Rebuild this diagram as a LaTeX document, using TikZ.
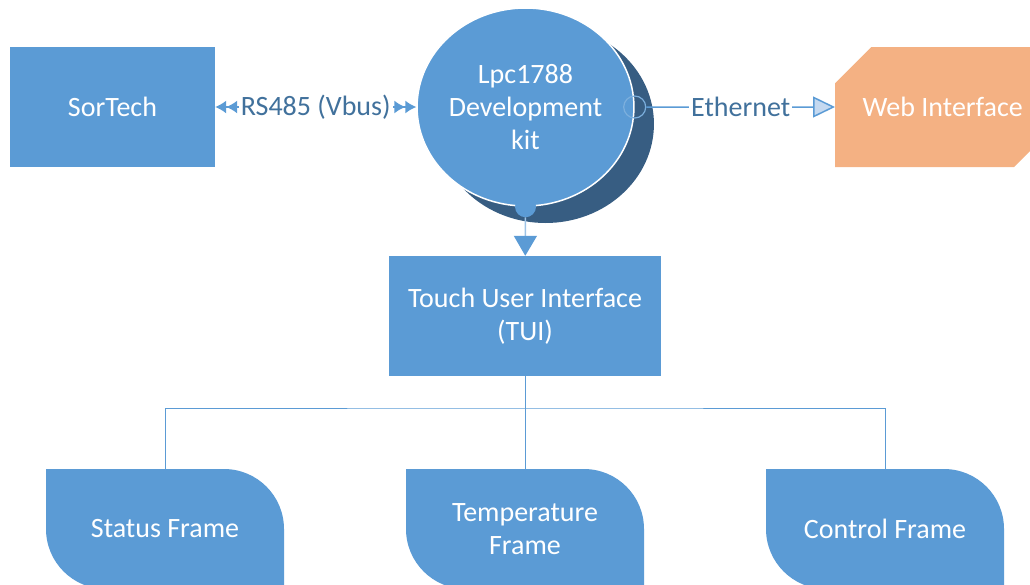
\documentclass[tikz,border=0pt]{standalone}
\usepackage{fontspec}
\setmainfont{Carlito}
\usetikzlibrary{arrows.meta,shapes.geometric,shapes.misc,shadows}

\definecolor{boxblue}{HTML}{5B9BD5}
\definecolor{shadowblue}{HTML}{375D82}
\definecolor{labelblue}{HTML}{41719C}
\definecolor{webfill}{HTML}{F4B183}
\definecolor{tipfill}{HTML}{C5D9F0}
\newcommand\diagfont{\fontsize{28}{33}\selectfont}

\begin{document}
\begin{tikzpicture}[x=1pt, y=-1pt,
    box/.style={fill=boxblue, text=white, align=center, font=\diagfont,
        minimum width=205pt, minimum height=120pt}, % Style for the blue boxes
    devcircle/.style={ellipse, fill=boxblue, draw=white, line width=1.5pt, text=white,
        align=center, font=\diagfont, inner sep=0pt, minimum width=206pt, minimum height=198pt,
        drop shadow={shadow xshift=20pt, shadow yshift=-17pt, fill=shadowblue, opacity=1}},
    webbox/.style={chamfered rectangle, chamfered rectangle corners={north west,south east},
        chamfered rectangle xsep=20pt, chamfered rectangle ysep=23pt, fill=webfill,
        text=white, font=\diagfont, minimum width=215pt, minimum height=120pt},
    frametext/.style={text=white, align=center, font=\diagfont,
        minimum width=238pt, minimum height=120pt}, % text of the bottom frames
    framefill/.style={fill=boxblue},
    link/.style={boxblue, line width=1.5pt},
    linklabel/.style={fill=white, text=labelblue, font=\diagfont, inner sep=2pt},
    tree/.style={boxblue, line width=1pt}
]
\useasboundingbox (0,0) rectangle (1030,584);
\clip (0,0) rectangle (1030,584);

% Top row
\node[box] (sortech) at (112.5,107) {SorTech};
\node[devcircle] (dev) at (525.5,107) {Lpc1788\\Development\\kit};
\node[webbox, anchor=west] (web) at (835,107) {Web Interface};

% Connection points on the circle
\node[circle, draw=boxblue!80, line width=1.2pt, minimum size=22pt, inner sep=0pt] (ethpt) at (dev.east) {};
\node[circle, fill=boxblue, minimum size=21pt, inner sep=0pt] (tuipt) at (dev.south) {};

\node[box, minimum width=272pt] (tui) at (525,316) {Touch User Interface\\(TUI)};

% Bottom frames (sharp top-left and bottom-right corners)
\fill[framefill] (165,469) [sharp corners] -- (46,469) [rounded corners=60pt] -- (46,589)
    [sharp corners] -- (284,589) [rounded corners=60pt] -- (284,469) [sharp corners] -- cycle;
\fill[framefill] (525,469) [sharp corners] -- (406,469) [rounded corners=60pt] -- (406,589)
    [sharp corners] -- (644,589) [rounded corners=60pt] -- (644,469) [sharp corners] -- cycle;
\fill[framefill] (885,469) [sharp corners] -- (766,469) [rounded corners=60pt] -- (766,589)
    [sharp corners] -- (1004,589) [rounded corners=60pt] -- (1004,469) [sharp corners] -- cycle;
\node[frametext] (status) at (165,529) {Status Frame};
\node[frametext] (temp) at (525,529) {Temperature\\Frame};
\node[frametext] (control) at (885,529) {Control Frame};

% Connectors
\draw[link, {Latex[length=11pt,width=13pt]Latex[length=11pt,width=13pt]}-{Latex[length=11pt,width=13pt]Latex[length=11pt,width=13pt]}]
    (sortech) -- node[linklabel] {RS485 (Vbus)} (dev);
\draw[link, -{Triangle[length=22pt,width=21pt,fill=tipfill]}]
    (ethpt) -- node[linklabel] {Ethernet} (web);
\draw[boxblue!60, line width=1.5pt, -{Triangle[length=20pt,width=23pt,color=boxblue]}]
    (tuipt) -- (tui);

\draw[tree] (tui.south) -- (temp.north);
\draw[tree] (status.north) |- (525,408) -| (control.north);

\end{tikzpicture}
\end{document}
